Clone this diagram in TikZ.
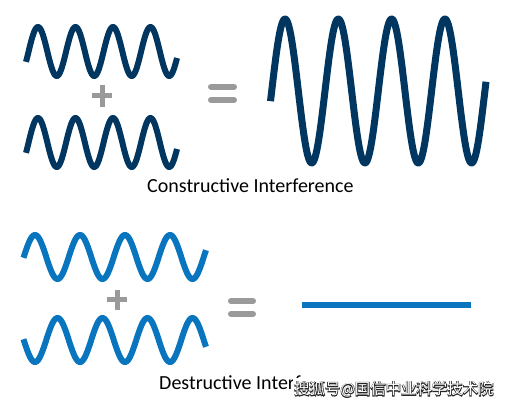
\documentclass[tikz,border=0pt]{standalone}
\usepackage{fontspec}
\setmainfont{Carlito}
\newfontfamily\cjkfont{Noto Sans CJK SC}
\newfontfamily\cjkoutline[FakeBold=8]{Noto Sans CJK SC}
\usetikzlibrary{positioning}
\definecolor{navy}{RGB}{0,54,96}
\definecolor{lightblue}{RGB}{9,117,190}
\definecolor{signgray}{RGB}{154,154,154}

\begin{document}
\begin{tikzpicture}[x=1pt,y=-1pt,
  wave/.style={line width=6pt,line join=round,samples=300},
  sign/.style={signgray,line width=5pt},
  eqbar/.style={signgray,line width=6pt,line cap=round},
  caption/.style={anchor=base west,inner sep=0pt,font=\fontsize{20pt}{20pt}\selectfont},
  wmtext/.style={inner sep=1pt,minimum height=24pt}
]
  \useasboundingbox (0,0) rectangle (509,406);
  % constructive: two waves in step
  \draw[wave,navy] plot[domain=26:177] (\x,{51.5-24.5*sin(9.6*(\x-28.6))});
  \draw[wave,navy] plot[domain=26:177] (\x,{142.5-24.5*sin(9.6*(\x-28.6))});
  \draw[sign] (92,96) -- (112,96); \draw[sign] (102,85) -- (102,107);
  \draw[eqbar] (211,86.7) -- (234,86.7); \draw[eqbar] (211,100) -- (234,100);
  \draw[wave,navy,line width=7pt] plot[domain=270.5:486] (\x,{91-72*sin(6.754*(\x-271.7))});
  \node[caption] (cons) at (147,193) {Constructive Interference};
  % destructive: two waves out of step
  \draw[wave,lightblue] plot[domain=23.5:206] (\x,{257-22*sin(8*(\x-23.75))});
  \draw[wave,lightblue] plot[domain=23.5:206] (\x,{340+22*sin(8*(\x-23.75))});
  \draw[sign] (107,300) -- (127,300); \draw[sign] (117,290) -- (117,310);
  \draw[eqbar] (231,301) -- (253,301); \draw[eqbar] (231,314) -- (253,314);
  \coordinate (flatL) at (302,305);
  \coordinate (flatR) at (471,305);
  \draw[lightblue,line width=6.5pt] (flatL) -- (flatR);
  \node[caption] (dest) at (159,389) {Destructive Interference};
  % watermark
  \node[wmtext,fill=white,text=black!85,anchor=west,font=\cjkoutline\fontsize{15.4pt}{15.4pt}\selectfont] (wm) at (293,389.5) {搜狐号@国信中业科学技术院};
  \node[wmtext,text=white,font=\cjkfont\fontsize{15.4pt}{15.4pt}\selectfont] (wmtop) at (wm.center) {搜狐号@国信中业科学技术院};
\end{tikzpicture}
\end{document}
